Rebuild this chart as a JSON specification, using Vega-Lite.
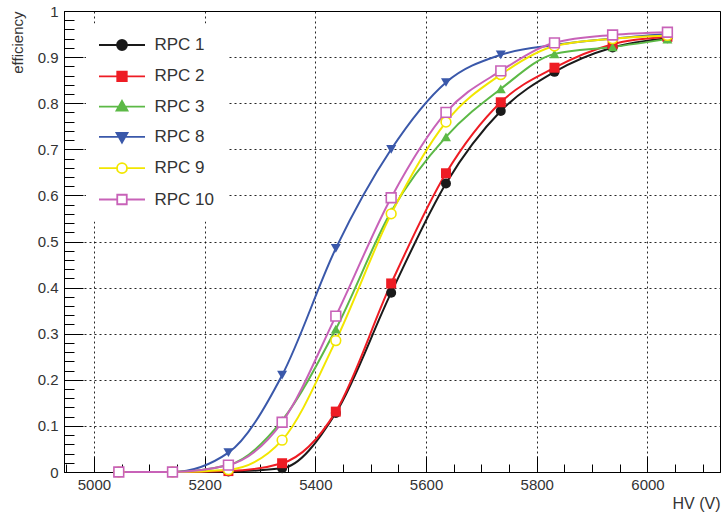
{
  "$schema": "https://vega.github.io/schema/vega-lite/v6.json",
  "width": 656,
  "height": 461,
  "autosize": {"type": "none"},
  "padding": {"left": 64, "top": 11, "right": 2, "bottom": 41},
  "background": "white",
  "data": {"values": [
    {"series": "RPC 1", "hv": 5045, "eff": 0},
    {"series": "RPC 1", "hv": 5142, "eff": 0},
    {"series": "RPC 1", "hv": 5243, "eff": 0.001},
    {"series": "RPC 1", "hv": 5340, "eff": 0.008},
    {"series": "RPC 1", "hv": 5437, "eff": 0.128},
    {"series": "RPC 1", "hv": 5537, "eff": 0.389},
    {"series": "RPC 1", "hv": 5636, "eff": 0.626},
    {"series": "RPC 1", "hv": 5735, "eff": 0.783},
    {"series": "RPC 1", "hv": 5832, "eff": 0.868},
    {"series": "RPC 1", "hv": 5937, "eff": 0.921},
    {"series": "RPC 1", "hv": 6036, "eff": 0.941},
    {"series": "RPC 2", "hv": 5045, "eff": 0},
    {"series": "RPC 2", "hv": 5142, "eff": 0},
    {"series": "RPC 2", "hv": 5243, "eff": 0.002},
    {"series": "RPC 2", "hv": 5340, "eff": 0.019},
    {"series": "RPC 2", "hv": 5437, "eff": 0.131},
    {"series": "RPC 2", "hv": 5537, "eff": 0.409},
    {"series": "RPC 2", "hv": 5636, "eff": 0.648},
    {"series": "RPC 2", "hv": 5735, "eff": 0.802},
    {"series": "RPC 2", "hv": 5832, "eff": 0.877},
    {"series": "RPC 2", "hv": 5937, "eff": 0.928},
    {"series": "RPC 2", "hv": 6036, "eff": 0.944},
    {"series": "RPC 3", "hv": 5045, "eff": 0},
    {"series": "RPC 3", "hv": 5142, "eff": 0},
    {"series": "RPC 3", "hv": 5243, "eff": 0.015},
    {"series": "RPC 3", "hv": 5340, "eff": 0.112},
    {"series": "RPC 3", "hv": 5437, "eff": 0.31},
    {"series": "RPC 3", "hv": 5537, "eff": 0.565},
    {"series": "RPC 3", "hv": 5636, "eff": 0.727},
    {"series": "RPC 3", "hv": 5735, "eff": 0.831},
    {"series": "RPC 3", "hv": 5832, "eff": 0.907},
    {"series": "RPC 3", "hv": 5937, "eff": 0.922},
    {"series": "RPC 3", "hv": 6036, "eff": 0.939},
    {"series": "RPC 8", "hv": 5045, "eff": 0},
    {"series": "RPC 8", "hv": 5142, "eff": 0},
    {"series": "RPC 8", "hv": 5243, "eff": 0.042},
    {"series": "RPC 8", "hv": 5340, "eff": 0.21},
    {"series": "RPC 8", "hv": 5437, "eff": 0.485},
    {"series": "RPC 8", "hv": 5537, "eff": 0.7},
    {"series": "RPC 8", "hv": 5636, "eff": 0.845},
    {"series": "RPC 8", "hv": 5735, "eff": 0.905},
    {"series": "RPC 8", "hv": 5832, "eff": 0.926},
    {"series": "RPC 8", "hv": 5937, "eff": 0.94},
    {"series": "RPC 8", "hv": 6036, "eff": 0.95},
    {"series": "RPC 9", "hv": 5045, "eff": 0},
    {"series": "RPC 9", "hv": 5142, "eff": 0},
    {"series": "RPC 9", "hv": 5243, "eff": 0.005},
    {"series": "RPC 9", "hv": 5340, "eff": 0.069},
    {"series": "RPC 9", "hv": 5437, "eff": 0.285},
    {"series": "RPC 9", "hv": 5537, "eff": 0.56},
    {"series": "RPC 9", "hv": 5636, "eff": 0.759},
    {"series": "RPC 9", "hv": 5735, "eff": 0.862},
    {"series": "RPC 9", "hv": 5832, "eff": 0.924},
    {"series": "RPC 9", "hv": 5937, "eff": 0.94},
    {"series": "RPC 9", "hv": 6036, "eff": 0.947},
    {"series": "RPC 10", "hv": 5045, "eff": 0},
    {"series": "RPC 10", "hv": 5142, "eff": 0},
    {"series": "RPC 10", "hv": 5243, "eff": 0.015},
    {"series": "RPC 10", "hv": 5340, "eff": 0.108},
    {"series": "RPC 10", "hv": 5437, "eff": 0.338},
    {"series": "RPC 10", "hv": 5537, "eff": 0.595},
    {"series": "RPC 10", "hv": 5636, "eff": 0.78},
    {"series": "RPC 10", "hv": 5735, "eff": 0.87},
    {"series": "RPC 10", "hv": 5832, "eff": 0.931},
    {"series": "RPC 10", "hv": 5937, "eff": 0.948},
    {"series": "RPC 10", "hv": 6036, "eff": 0.954}
  ]},
  "resolve": {"axis": {"x": "independent", "y": "independent"}, "scale": {"shape": "independent"}},
  "layer": [
    {
      "mark": {"type": "line", "interpolate": "monotone", "strokeWidth": 2},
      "encoding": {
        "x": {"field": "hv", "type": "quantitative",
          "scale": {"domain": [4946, 6131], "nice": false, "zero": false},
          "axis": {"orient": "bottom", "values": [5000, 5200, 5400, 5600, 5800, 6000], "format": "d",
            "grid": true, "gridDash": [2, 3], "gridColor": "#000", "gridOpacity": 0.85,
            "tickSize": -16, "tickColor": "#000", "domainColor": "#000",
            "labelFontSize": 15, "labelColor": "#333", "labelFont": "Liberation Sans", "labelPadding": 21,
            "title": "HV (V)", "titleFont": "Liberation Sans", "titleFontSize": 16, "titleFontWeight": "normal", "titleColor": "#333",
            "titleX": 656, "titleY": 36, "titleAlign": "right", "titleBaseline": "alphabetic", "titleAnchor": null}},
        "y": {"field": "eff", "type": "quantitative",
          "scale": {"domain": [0, 1], "nice": false},
          "axis": {"orient": "left", "values": [0, 0.1, 0.2, 0.3, 0.4, 0.5, 0.6, 0.7, 0.8, 0.9, 1], "format": "~g",
            "grid": true, "gridDash": [2, 3], "gridColor": "#000", "gridOpacity": 0.85,
            "tickSize": -19, "tickColor": "#000", "domainColor": "#000",
            "labelFontSize": 15, "labelColor": "#333", "labelFont": "Liberation Sans", "labelPadding": 25,
            "title": "efficiency", "titleFont": "Liberation Sans", "titleFontSize": 15, "titleFontWeight": "normal", "titleColor": "#333",
            "titleX": -47, "titleY": 0, "titleAngle": 270, "titleAlign": "right", "titleBaseline": "middle", "titleAnchor": null}},
        "color": {"field": "series", "type": "nominal",
          "scale": {"domain": ["RPC 1", "RPC 2", "RPC 3", "RPC 8", "RPC 9", "RPC 10"],
                    "range": ["#1a1a1a", "#ee1c24", "#5cb946", "#3a58aa", "#f2e600", "#c862b8"]},
          "legend": null}
      }
    },
    {
      "transform": [{"filter": "datum.series === 'RPC 1' || datum.series === 'RPC 2' || datum.series === 'RPC 3' || datum.series === 'RPC 8'"}],
      "mark": {"type": "point", "filled": true, "size": 100, "opacity": 1},
      "encoding": {
        "x": {"field": "hv", "type": "quantitative",
          "axis": {"orient": "bottom", "values": [4950, 5050, 5100, 5150, 5250, 5300, 5350, 5450, 5500, 5550, 5650, 5700, 5750, 5850, 5900, 5950, 6050, 6100],
            "tickSize": -8, "tickColor": "#000", "labels": false, "domain": false, "grid": false, "title": null}},
        "y": {"field": "eff", "type": "quantitative",
          "axis": {"orient": "left", "values": [0.02, 0.04, 0.06, 0.08, 0.12, 0.14, 0.16, 0.18, 0.22, 0.24, 0.26, 0.28, 0.32, 0.34, 0.36, 0.38, 0.42, 0.44, 0.46, 0.48, 0.52, 0.54, 0.56, 0.58, 0.62, 0.64, 0.66, 0.68, 0.72, 0.74, 0.76, 0.78, 0.82, 0.84, 0.86, 0.88, 0.92, 0.94, 0.96, 0.98],
            "tickSize": -10, "tickColor": "#000", "labels": false, "domain": false, "grid": false, "title": null}},
        "color": {"field": "series", "type": "nominal", "legend": null},
        "shape": {"field": "series", "type": "nominal",
          "scale": {"domain": ["RPC 1", "RPC 2", "RPC 3", "RPC 8"],
                    "range": ["circle", "square", "triangle-up", "triangle-down"]},
          "legend": null}
      }
    },
    {
      "transform": [{"filter": "datum.series === 'RPC 9' || datum.series === 'RPC 10'"}],
      "mark": {"type": "point", "filled": false, "fill": "white", "fillOpacity": 1, "size": 95, "strokeWidth": 1.6, "opacity": 1},
      "encoding": {
        "x": {"field": "hv", "type": "quantitative", "axis": null},
        "y": {"field": "eff", "type": "quantitative", "axis": null},
        "color": {"field": "series", "type": "nominal", "legend": null},
        "shape": {"field": "series", "type": "nominal",
          "scale": {"domain": ["RPC 9", "RPC 10"], "range": ["circle", "square"]},
          "legend": null}
      }
    },
    {
      "transform": [{"filter": "datum.eff > 5"}],
      "mark": {"type": "point", "filled": true, "strokeWidth": 1.8, "opacity": 1},
      "encoding": {
        "x": {"field": "hv", "type": "quantitative", "axis": null},
        "y": {"field": "eff", "type": "quantitative", "axis": null},
        "shape": {"field": "series", "type": "nominal",
          "scale": {"domain": ["RPC 1", "RPC 2", "RPC 3", "RPC 8", "RPC 9", "RPC 10"],
                    "range": [
                      "M-4.6,0H4.6M1,0A1,1,0,1,1,-1,0A1,1,0,1,1,1,0Z",
                      "M-4.6,0H4.6M-0.95,-0.95H0.95V0.95H-0.95Z",
                      "M-4.6,0H4.6M0,-1.15L1.1,0.8H-1.1Z",
                      "M-4.6,0H4.6M0,1.15L1.1,-0.8H-1.1Z",
                      "M-4.6,0H-1M1,0H4.6M1,0A1,1,0,1,1,-1,0A1,1,0,1,1,1,0Z",
                      "M-4.6,0H-0.95M0.95,0H4.6M-0.95,-0.95H0.95V0.95H-0.95Z"]},
          "legend": {"title": null, "orient": "none", "legendX": 22, "legendY": 12.5,
            "padding": 13, "fillColor": "white", "strokeColor": null,
            "symbolSize": 100, "symbolStrokeWidth": 1.8, "symbolOffset": 14.5, "symbolOpacity": 1,
            "labelOffset": 24, "labelFontSize": 17, "labelFont": "Liberation Sans", "labelColor": "#333", "rowPadding": 12.3,
            "encoding": {"symbols": {
              "fill": {"value": {"expr": "datum.value === 'RPC 1' ? '#1a1a1a' : datum.value === 'RPC 2' ? '#ee1c24' : datum.value === 'RPC 3' ? '#5cb946' : datum.value === 'RPC 8' ? '#3a58aa' : '#ffffff'"}},
              "stroke": {"value": {"expr": "datum.value === 'RPC 1' ? '#1a1a1a' : datum.value === 'RPC 2' ? '#ee1c24' : datum.value === 'RPC 3' ? '#5cb946' : datum.value === 'RPC 8' ? '#3a58aa' : datum.value === 'RPC 9' ? '#f2e600' : '#c862b8'"}},
              "fillOpacity": {"value": 1},
              "strokeWidth": {"value": 1.8}
            }}}},
        "fill": {"field": "series", "type": "nominal",
          "scale": {"domain": ["RPC 1", "RPC 2", "RPC 3", "RPC 8", "RPC 9", "RPC 10"],
                    "range": ["#1a1a1a", "#ee1c24", "#5cb946", "#3a58aa", "#ffffff", "#ffffff"]},
          "legend": null},
        "stroke": {"field": "series", "type": "nominal",
          "scale": {"domain": ["RPC 1", "RPC 2", "RPC 3", "RPC 8", "RPC 9", "RPC 10"],
                    "range": ["#1a1a1a", "#ee1c24", "#5cb946", "#3a58aa", "#f2e600", "#c862b8"]},
          "legend": null}
      }
    }
  ],
  "config": {
    "view": {"stroke": "#000", "strokeWidth": 1},
    "font": "Liberation Sans"
  }
}
